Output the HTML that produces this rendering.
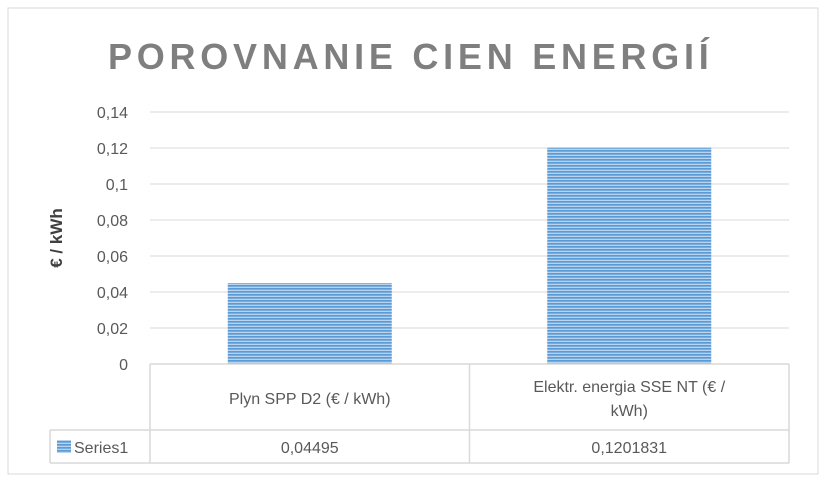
<!DOCTYPE html>
<html><head><meta charset="utf-8"><style>
body{margin:0;background:#fff;font-family:"Liberation Sans",sans-serif}
svg text{font-family:"Liberation Sans",sans-serif}
</style></head><body>
<svg width="826" height="482">
<defs><pattern id="stripe" width="4" height="3" patternUnits="userSpaceOnUse">
<rect width="4" height="3" fill="#b9d3ee"/><rect width="4" height="1.7" fill="#5b9bd5"/></pattern></defs>
<rect x="8" y="8" width="810" height="466" fill="#fff" stroke="#d9d9d9"/>
<text x="410" y="69" text-anchor="middle" font-size="36" font-weight="bold" fill="#7f7f7f" letter-spacing="3.2" textLength="604" lengthAdjust="spacing">POROVNANIE CIEN ENERGIÍ</text>
<text transform="translate(62,238) rotate(-90)" text-anchor="middle" font-size="17" font-weight="bold" fill="#404040">€ / kWh</text>
<g id="grid"></g><g id="bars"></g><g id="table"></g>
</svg>
<script>
const categories=["Plyn SPP D2 (€ / kWh)","Elektr. energia SSE NT (€ / kWh)"];
const values=[0.04495,0.1201831];
const valueLabels=["0,04495","0,1201831"];
const ticks=[0,0.02,0.04,0.06,0.08,0.1,0.12,0.14];
const tickLabels=["0","0,02","0,04","0,06","0,08","0,1","0,12","0,14"];
const NS="http://www.w3.org/2000/svg";
const x0=150,x1=789,y0=364,yTop=112,yMax=0.14;
const y=v=>y0-(v/yMax)*(y0-yTop);
const cw=(x1-x0)/categories.length;
function mk(t,a,p){const e=document.createElementNS(NS,t);for(const k in a)e.setAttribute(k,a[k]);p.appendChild(e);return e;}
const g=document.getElementById('grid'),b=document.getElementById('bars'),tb=document.getElementById('table');
ticks.forEach((v,i)=>{
 if(v>0){const l=mk('line',{x1:x0,x2:x1,y1:y(v),y2:y(v),stroke:'#d9d9d9'},g);
 
 }
 const t=mk('text',{x:128,y:y(v)+6,'text-anchor':'end','font-size':16,fill:'#595959'},g);
 t.textContent=tickLabels[i];
 
 
});
values.forEach((v,i)=>{
 const bw=164,bx=x0+cw*i+(cw-bw)/2;
 const r=mk('rect',{x:bx,y:y(v),width:bw,height:y0-y(v),fill:'url(#stripe)'},b);
 
 
});
const ln=(a,bb,c,d,n)=>{const l=mk('line',{x1:a,y1:bb,x2:c,y2:d,stroke:'#d9d9d9','stroke-width':1.5},tb);};
ln(x0,y0,x1,y0,'x-axis-line');
ln(50,430,x1,430,'table-row-line');
ln(50,463,x1,463,'table-bottom-line');
ln(50,430,50,463,'table-left-line');
for(let i=0;i<=categories.length;i++)ln(x0+cw*i,y0,x0+cw*i,463,'table-col-line');
categories.forEach((c,i)=>{
 const cx=x0+cw*(i+0.5);
 const parts=c.length>25?[c.slice(0,c.lastIndexOf(' ')),c.slice(c.lastIndexOf(' ')+1)]:[c];
 parts.forEach((p,j)=>{
  const t=mk('text',{x:cx,y:(parts.length>1?392:404)+j*24,'text-anchor':'middle','font-size':16,fill:'#595959'},tb);
  t.textContent=p;
  
  
 });
 const t=mk('text',{x:cx,y:453,'text-anchor':'middle','font-size':16,fill:'#595959'},tb);
 t.textContent=valueLabels[i];
 
 
});
const k=mk('rect',{x:57,y:440,width:14,height:13,fill:'url(#stripe)'},tb);


const lt=mk('text',{x:74,y:453,'font-size':16,fill:'#595959'},tb);
lt.textContent='Series1';


</script>
</body></html>
